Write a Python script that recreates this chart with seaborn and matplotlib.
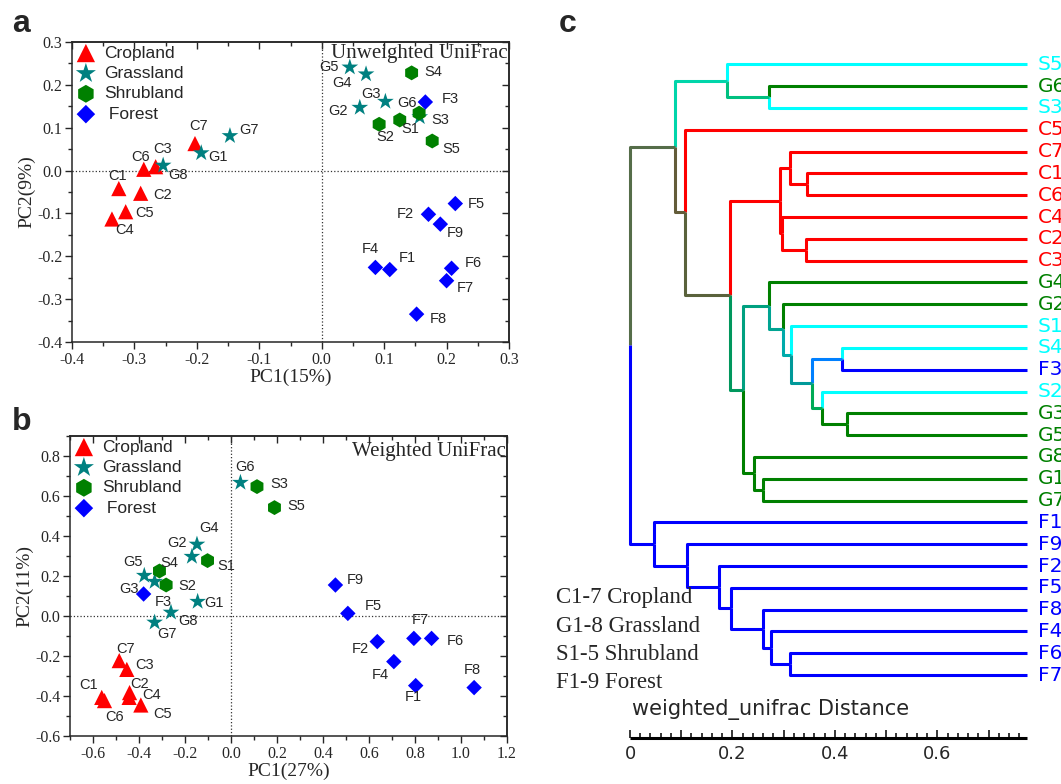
import matplotlib
matplotlib.use("Agg")
import matplotlib.pyplot as plt
import matplotlib.ticker as mticker
from matplotlib.colors import to_rgb
import numpy as np
import pandas as pd
import seaborn as sns

sns.set_style("ticks")
plt.rcParams["font.family"] = ["Liberation Serif", "DejaVu Serif"]
plt.rcParams["axes.unicode_minus"] = False

# ---------------- PCoA data ----------------
crop_ids = ["C1", "C2", "C3", "C4", "C5", "C6", "C7"]
grass_ids = ["G1", "G2", "G3", "G4", "G5", "G6", "G7", "G8"]
shrub_ids = ["S1", "S2", "S3", "S4", "S5"]
forest_ids = ["F1", "F2", "F3", "F4", "F5", "F6", "F7", "F8", "F9"]

# unweighted UniFrac (panel a)
unw_crop_pc1 = [-0.325, -0.290, -0.266, -0.336, -0.314, -0.285, -0.203]
unw_crop_pc2 = [-0.042, -0.053, 0.009, -0.113, -0.096, 0.003, 0.063]
unw_grass_pc1 = [-0.193, 0.061, 0.102, 0.071, 0.045, 0.157, -0.147, -0.254]
unw_grass_pc2 = [0.041, 0.147, 0.161, 0.225, 0.241, 0.125, 0.081, 0.012]
unw_shrub_pc1 = [0.125, 0.092, 0.156, 0.144, 0.177]
unw_shrub_pc2 = [0.118, 0.108, 0.134, 0.228, 0.069]
unw_forest_pc1 = [0.109, 0.171, 0.166, 0.086, 0.214, 0.208, 0.200, 0.152, 0.190]
unw_forest_pc2 = [-0.231, -0.102, 0.160, -0.226, -0.077, -0.228, -0.257, -0.335, -0.125]

# weighted UniFrac (panel b)
w_crop_pc1 = [-0.562, -0.441, -0.453, -0.443, -0.392, -0.550, -0.486]
w_crop_pc2 = [-0.407, -0.383, -0.267, -0.407, -0.445, -0.423, -0.223]
w_grass_pc1 = [-0.145, -0.170, -0.332, -0.148, -0.377, 0.041, -0.332, -0.261]
w_grass_pc2 = [0.072, 0.297, 0.172, 0.358, 0.202, 0.667, -0.032, 0.018]
w_shrub_pc1 = [-0.102, -0.282, 0.113, -0.311, 0.189]
w_shrub_pc2 = [0.277, 0.155, 0.647, 0.225, 0.542]
w_forest_pc1 = [0.803, 0.636, -0.380, 0.708, 0.508, 0.872, 0.795, 1.057, 0.454]
w_forest_pc2 = [-0.348, -0.128, 0.110, -0.228, 0.013, -0.112, -0.112, -0.358, 0.155]

groups = ["Cropland", "Grassland", "Shrubland", "Forest"]

# label offsets (points) for the sample names
unw_offsets = {
    "C1": (-1, 9), "C2": (16, -1), "C3": (5, 12.5), "C4": (9, -8), "C5": (13.5, -1),
    "C6": (-2, 8.5), "C7": (2.5, 12.5),
    "G1": (12, -3), "G2": (-16, -2.5), "G3": (-10.5, 5.5), "G4": (-17, -6.5),
    "G5": (-15, 0), "G6": (-9, 10), "G7": (13.5, 4), "G8": (10.5, -7),
    "S1": (7.5, -6.5), "S2": (4.5, -9), "S3": (15, -5), "S4": (15.5, 0.5), "S5": (14, -6),
    "F1": (12.5, 8), "F2": (-17, 0.5), "F3": (18, 2.5), "F4": (-4, 13.5), "F5": (15, 0),
    "F6": (16, 4), "F7": (13.5, -5.5), "F8": (15.5, -3.5), "F9": (10.5, -6.5),
}
w_offsets = {
    "C1": (-9.5, 9), "C2": (7, 6), "C3": (13, 3.5), "C4": (16, 1.5), "C5": (16, -6.5),
    "C6": (7.5, -12), "C7": (4.5, 8),
    "G1": (11.5, -1), "G2": (-11, 9.5), "G3": (-18.5, -5), "G4": (8.5, 11.5),
    "G5": (-8, 9.5), "G6": (3.5, 11), "G7": (9, -8), "G8": (12.5, -6),
    "S1": (13.5, -4), "S2": (15.5, -0.5), "S3": (16, 2), "S4": (7, 6), "S5": (16, 1),
    "F1": (-2, -8.5), "F2": (-12.5, -5), "F3": (14.5, -6), "F4": (-9.5, -9.5),
    "F5": (18.5, 5), "F6": (17, -2), "F7": (4.5, 13.5), "F8": (-1, 13), "F9": (14.5, 3.5),
}

pcoa_colors = {"Cropland": "#ff0000", "Grassland": "#008080",
               "Shrubland": "#008000", "Forest": "#0000ff"}
pcoa_markers = {"Cropland": "^", "Grassland": "*", "Shrubland": "h", "Forest": "D"}
pcoa_sizes = {"Cropland": 120, "Grassland": 160, "Shrubland": 115, "Forest": 62}


def make_frame(ids_list, pc1_list, pc2_list):
    rows = []
    for grp, ids, xs, ys in zip(groups, ids_list, pc1_list, pc2_list):
        for sid, xv, yv in zip(ids, xs, ys):
            rows.append({"sample": sid, "group": grp, "pc1": xv, "pc2": yv})
    return pd.DataFrame(rows)


all_ids = [crop_ids, grass_ids, shrub_ids, forest_ids]
df_unw = make_frame(all_ids,
                    [unw_crop_pc1, unw_grass_pc1, unw_shrub_pc1, unw_forest_pc1],
                    [unw_crop_pc2, unw_grass_pc2, unw_shrub_pc2, unw_forest_pc2])
df_w = make_frame(all_ids,
                  [w_crop_pc1, w_grass_pc1, w_shrub_pc1, w_forest_pc1],
                  [w_crop_pc2, w_grass_pc2, w_shrub_pc2, w_forest_pc2])

# ---------------- dendrogram data ----------------
leaf_order = ["S5", "G6", "S3", "C5", "C7", "C1", "C6", "C4", "C2", "C3",
              "G4", "G2", "S1", "S4", "F3", "S2", "G3", "G5", "G8", "G1", "G7",
              "F1", "F9", "F2", "F5", "F8", "F4", "F6", "F7"]
merge_left = ["G6", "S5", "C1", "C7", "C2", "C4", "n4", "S4", "G3", "S2", "n8",
              "S1", "G2", "G4", "G1", "G8", "n14", "n7", "C5", "n2",
              "F6", "F4", "F8", "F5", "F2", "F9", "F1", "n20"]
merge_right = ["S3", "n1", "C6", "n3", "C3", "n5", "n6", "F3", "G5", "n9", "n10",
               "n11", "n12", "n13", "G7", "n15", "n16", "n17", "n18", "n19",
               "F7", "n21", "n22", "n23", "n24", "n25", "n26", "n27"]
merge_depth = [0.272, 0.189, 0.345, 0.312, 0.343, 0.296, 0.293, 0.413, 0.423, 0.374,
               0.356, 0.315, 0.298, 0.272, 0.260, 0.243, 0.220, 0.195, 0.107, 0.088,
               0.312, 0.276, 0.260, 0.197, 0.174, 0.111, 0.047, 0.0]
tree_height = 0.775
tree_colors = {"C": "#ff0000", "G": "#008000", "S": "#00ffff", "F": "#0000ff"}

# ---------------- figure ----------------
W, H = 1061, 784
fig = plt.figure(figsize=(W / 100, H / 100), dpi=100)


def px_axes(left, top, right, bottom):
    return fig.add_axes([left / W, 1 - bottom / H, (right - left) / W, (bottom - top) / H])


def one_decimal(v, pos):
    return f"{round(v, 3) + 0.0:.1f}".replace("-0.0", "0.0")


def draw_pcoa(ax, df, offsets, title, xlabel, ylabel, xlim, ylim, xmaj, ymaj, xminor, yminor, title_y):
    ax.axhline(0, color="#333333", ls=":", lw=0.9, zorder=1)
    ax.axvline(0, color="#333333", ls=":", lw=0.9, zorder=1)
    for grp in groups:
        sub = df[df["group"] == grp]
        sns.scatterplot(data=sub, x="pc1", y="pc2", ax=ax, marker=pcoa_markers[grp],
                        color=pcoa_colors[grp], s=pcoa_sizes[grp], edgecolor="none",
                        linewidth=0, label=grp, zorder=3)
    for _, r in df.iterrows():
        ax.annotate(r["sample"], (r["pc1"], r["pc2"]), xytext=offsets[r["sample"]],
                    textcoords="offset points", ha="center", va="center",
                    fontsize=10.5, family="Liberation Sans", zorder=4)
    ax.set_xlim(*xlim)
    ax.set_ylim(*ylim)
    ax.xaxis.set_major_locator(mticker.FixedLocator(xmaj))
    ax.yaxis.set_major_locator(mticker.FixedLocator(ymaj))
    ax.xaxis.set_minor_locator(mticker.MultipleLocator(xminor))
    ax.yaxis.set_minor_locator(mticker.MultipleLocator(yminor))
    ax.xaxis.set_major_formatter(mticker.FuncFormatter(one_decimal))
    ax.yaxis.set_major_formatter(mticker.FuncFormatter(one_decimal))
    ax.tick_params(which="major", direction="out", length=5, width=1, labelsize=11.5, pad=2)
    ax.tick_params(which="minor", direction="out", length=2.8, width=1)
    for sp in ax.spines.values():
        sp.set_linewidth(1.1)
        sp.set_visible(True)
    # mirrored inward ticks on top and right
    top = ax.secondary_xaxis("top")
    right = ax.secondary_yaxis("right")
    for sec, loc in ((top, xmaj), (right, ymaj)):
        sec.set_ticks(loc)
        sec.xaxis.set_minor_locator(mticker.MultipleLocator(xminor))
        sec.yaxis.set_minor_locator(mticker.MultipleLocator(yminor))
        sec.tick_params(which="major", direction="in", length=5, width=1,
                        labeltop=False, labelright=False)
        sec.tick_params(which="minor", direction="in", length=2.8, width=1)
        sec.spines[:].set_linewidth(1.1)
    ax.set_xlabel(xlabel, fontsize=14, labelpad=1)
    ax.set_ylabel(ylabel, fontsize=14, labelpad=1)
    ax.text(0.997, title_y, title, transform=ax.transAxes, ha="right", va="center", fontsize=15)
    handles, _ = ax.get_legend_handles_labels()
    ax.legend(handles, ["Cropland", "Grassland", "Shrubland", " Forest"], loc="upper left",
              frameon=False, markerscale=1.2, prop={"family": "Liberation Sans", "size": 12.5},
              handletextpad=0.45, labelspacing=0.3, borderaxespad=0.0, borderpad=0.2,
              handlelength=1.2)


ax_a = px_axes(72, 42, 509, 342)
draw_pcoa(ax_a, df_unw, unw_offsets, "Unweighted UniFrac", "PC1(15%)", "PC2(9%)",
          (-0.4, 0.3), (-0.4, 0.3), np.arange(-0.4, 0.31, 0.1), np.arange(-0.4, 0.31, 0.1),
          0.05, 0.05, 0.962)

ax_b = px_axes(70, 436, 507, 736)
draw_pcoa(ax_b, df_w, w_offsets, "Weighted UniFrac", "PC1(27%)", "PC2(11%)",
          (-0.7, 1.2), (-0.6, 0.9), np.arange(-0.6, 1.21, 0.2), np.arange(-0.6, 0.81, 0.2),
          0.1, 0.1, 0.947)

# ---------------- dendrogram (panel c) ----------------
children = {}
depth = {}
for i, (l, r, d) in enumerate(zip(merge_left, merge_right, merge_depth)):
    children[f"n{i + 1}"] = (l, r)
    depth[f"n{i + 1}"] = d


def leaves(n):
    if n not in children:
        return [n]
    return leaves(children[n][0]) + leaves(children[n][1])


def node_y(n):
    if n not in children:
        return leaf_order.index(n)
    return 0.5 * (node_y(children[n][0]) + node_y(children[n][1]))


def node_x(n):
    return depth.get(n, tree_height)


def node_color(n):
    # link colour = mean colour of the leaves below it
    rgb = np.array([to_rgb(tree_colors[s[0]]) for s in leaves(n)])
    return rgb.mean(axis=0)


ax_c = px_axes(630, 53.4, 1027, 686)
ax_c.set_xlim(0, tree_height)
ax_c.set_ylim(len(leaf_order) - 0.5, -0.5)
ax_c.axis("off")
for n in children:
    px, py = node_x(n), node_y(n)
    for ch in children[n]:
        cx, cy = node_x(ch), node_y(ch)
        ax_c.plot([px, px, cx], [py, cy, cy], color=node_color(ch), lw=2.2,
                  solid_joinstyle="round", solid_capstyle="butt", clip_on=False)
for i, name in enumerate(leaf_order):
    ax_c.text(tree_height + 0.021, i, name, color=tree_colors[name[0]], fontsize=14.5,
              family="DejaVu Sans", ha="left", va="center", clip_on=False)

# distance ruler
ax_r = px_axes(630, 727.7, 1027, 737.7)
ax_r.patch.set_visible(False)
for s in ("top", "left", "right", "bottom"):
    ax_r.spines[s].set_visible(False)
ax_r.plot([0, tree_height], [0, 0], color="black", lw=2.2, solid_capstyle="butt", clip_on=False)
ax_r.set_yticks([])
ax_r.xaxis.set_major_locator(mticker.FixedLocator(np.arange(0, 0.71, 0.1)))
ax_r.xaxis.set_minor_locator(mticker.FixedLocator(np.arange(0, 0.761, 0.02)))
ax_r.xaxis.set_major_formatter(mticker.FuncFormatter(
    lambda v, p: "0" if abs(v) < 1e-9 else (f"{v:.1f}" if round(v * 10) % 2 == 0 else "")))
ax_r.tick_params(which="major", direction="in", length=6, width=1.3, labelsize=13, pad=5)
ax_r.tick_params(which="minor", direction="in", length=3.5, width=1.3)
for t in ax_r.get_xticklabels():
    t.set_family("DejaVu Sans")
ax_r.set_xlim(0, tree_height)
ax_r.set_ylim(0, 1)
fig.text(632 / W, 1 - 709 / H, "weighted_unifrac Distance", fontsize=15,
         family="DejaVu Sans", ha="left", va="center")

for k, txt in enumerate(["C1-7 Cropland", "G1-8 Grassland", "S1-5 Shrubland", "F1-9 Forest"]):
    fig.text(556 / W, 1 - (598 + 28 * k) / H, txt, fontsize=16.5, ha="left", va="center")

# panel letters
for letter, xp, yp in (("a", 12, 32), ("b", 12, 430), ("c", 559, 32)):
    fig.text(xp / W, 1 - yp / H, letter, fontsize=23, fontweight="bold",
             family="Liberation Sans", ha="left", va="baseline")

fig.savefig("out.png", dpi=100)
